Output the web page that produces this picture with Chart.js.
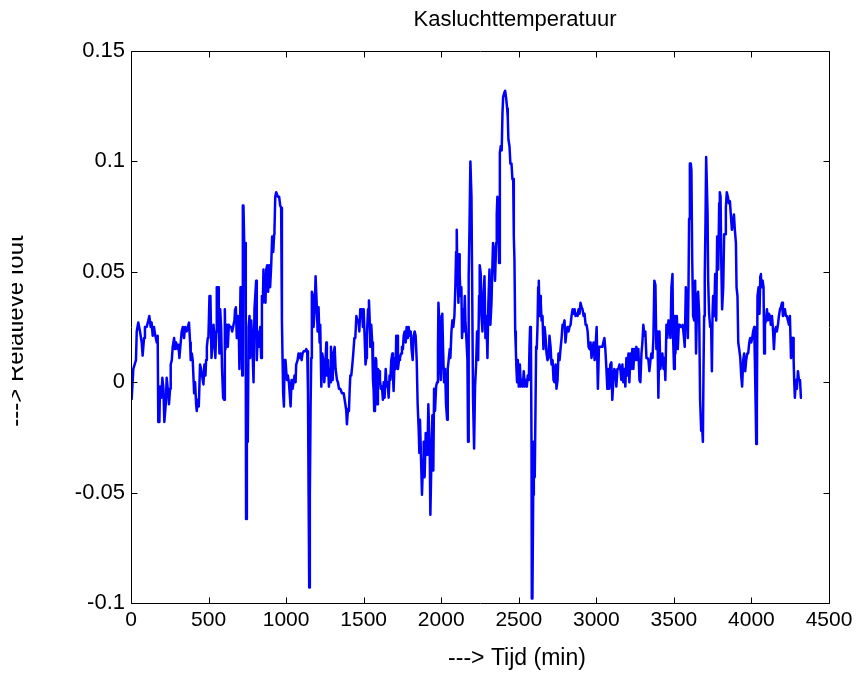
<!DOCTYPE html>
<html>
<head>
<meta charset="utf-8">
<script src="https://cdn.jsdelivr.net/npm/chart.js@4.4.1/dist/chart.umd.min.js"></script>
<style>
  html, body { margin: 0; padding: 0; background: #fff; }
  canvas { display: block; }
</style>
</head>
<body>
<canvas id="myChart" width="858" height="673"></canvas>
<script>
const chartTitle = 'Kasluchttemperatuur';
const xTitle = '---> Tijd (min)';
const yTitle = '---> Relatieve fout';

const xTicks = [0, 500, 1000, 1500, 2000, 2500, 3000, 3500, 4000, 4500];
const xTickLabels = ['0', '500', '1000', '1500', '2000', '2500', '3000', '3500', '4000', '4500'];
const yTicks = [-0.1, -0.05, 0, 0.05, 0.1, 0.15];
const yTickLabels = ['-0.1', '-0.05', '0', '0.05', '0.1', '0.15'];

// tijd in minuten
const timeMin = [
  4, 15, 32, 37, 47, 58, 69, 75, 84, 90,
  101, 112, 118, 127, 133, 140, 148, 157, 166, 172,
  176, 183, 187, 196, 202, 209, 215, 224, 230, 237,
  245, 252, 256, 263, 269, 278, 284, 291, 299, 306,
  312, 318, 327, 334, 342, 349, 359, 366, 374, 381,
  385, 392, 398, 407, 413, 420, 424, 430, 437, 441,
  445, 452, 458, 467, 473, 480, 484, 489, 495, 499,
  506, 512, 519, 525, 532, 538, 544, 549, 553, 562,
  566, 570, 575, 581, 587, 594, 600, 605, 609, 618,
  624, 631, 639, 646, 652, 661, 667, 671, 676, 682,
  689, 695, 699, 706, 712, 717, 721, 725, 730, 736,
  740, 742, 747, 753, 758, 764, 768, 775, 781, 790,
  796, 801, 807, 811, 818, 824, 833, 839, 844, 850,
  854, 861, 867, 872, 878, 884, 891, 897, 904, 910,
  917, 923, 925, 930, 936, 947, 955, 962, 968, 973,
  977, 981, 986, 990, 996, 1005, 1011, 1018, 1022, 1029,
  1035, 1042, 1048, 1054, 1061, 1065, 1074, 1080, 1087, 1093,
  1100, 1106, 1113, 1123, 1130, 1136, 1141, 1145, 1149, 1153,
  1158, 1162, 1166, 1173, 1177, 1184, 1190, 1197, 1203, 1209,
  1216, 1220, 1227, 1233, 1240, 1246, 1252, 1259, 1263, 1270,
  1276, 1280, 1285, 1289, 1296, 1300, 1306, 1313, 1319, 1328,
  1334, 1341, 1349, 1360, 1371, 1382, 1388, 1392, 1399, 1405,
  1410, 1414, 1420, 1427, 1433, 1440, 1446, 1453, 1459, 1466,
  1472, 1478, 1489, 1495, 1500, 1506, 1512, 1517, 1521, 1528,
  1534, 1538, 1543, 1549, 1555, 1560, 1564, 1568, 1573, 1577,
  1581, 1586, 1592, 1599, 1605, 1611, 1618, 1624, 1629, 1635,
  1642, 1648, 1654, 1661, 1667, 1672, 1678, 1685, 1689, 1693,
  1700, 1706, 1710, 1715, 1721, 1728, 1734, 1741, 1747, 1753,
  1758, 1764, 1771, 1777, 1784, 1790, 1796, 1803, 1809, 1816,
  1822, 1829, 1835, 1842, 1848, 1855, 1859, 1863, 1870, 1876,
  1883, 1887, 1893, 1900, 1904, 1911, 1917, 1921, 1926, 1930,
  1936, 1943, 1949, 1954, 1960, 1967, 1973, 1979, 1982, 1986,
  1990, 1997, 2003, 2007, 2012, 2018, 2025, 2031, 2038, 2042,
  2048, 2055, 2059, 2066, 2072, 2078, 2085, 2091, 2096, 2100,
  2104, 2111, 2115, 2119, 2124, 2130, 2134, 2141, 2145, 2152,
  2156, 2162, 2169, 2173, 2177, 2182, 2188, 2195, 2199, 2205,
  2212, 2218, 2225, 2231, 2238, 2244, 2248, 2255, 2259, 2266,
  2272, 2279, 2285, 2291, 2298, 2304, 2311, 2317, 2324, 2330,
  2334, 2341, 2347, 2354, 2358, 2362, 2367, 2373, 2378, 2384,
  2390, 2395, 2399, 2406, 2412, 2418, 2425, 2429, 2433, 2440,
  2446, 2453, 2459, 2464, 2468, 2472, 2477, 2481, 2485, 2489,
  2494, 2500, 2507, 2513, 2520, 2526, 2532, 2539, 2545, 2552,
  2558, 2565, 2569, 2573, 2578, 2582, 2584, 2588, 2593, 2597,
  2603, 2608, 2612, 2616, 2621, 2625, 2629, 2634, 2638, 2642,
  2647, 2653, 2659, 2666, 2672, 2679, 2685, 2692, 2698, 2705,
  2711, 2718, 2724, 2730, 2737, 2743, 2750, 2756, 2763, 2769,
  2776, 2782, 2789, 2795, 2801, 2808, 2814, 2821, 2827, 2834,
  2840, 2847, 2853, 2860, 2866, 2872, 2879, 2885, 2892, 2898,
  2905, 2911, 2918, 2924, 2931, 2937, 2944, 2950, 2956, 2963,
  2969, 2976, 2982, 2989, 2995, 3002, 3006, 3010, 3017, 3023,
  3039, 3045, 3052, 3058, 3065, 3071, 3077, 3084, 3090, 3097,
  3103, 3110, 3116, 3123, 3129, 3136, 3142, 3149, 3155, 3161,
  3168, 3174, 3181, 3187, 3194, 3200, 3207, 3213, 3220, 3226,
  3232, 3239, 3245, 3252, 3258, 3265, 3271, 3278, 3284, 3291,
  3297, 3303, 3310, 3316, 3323, 3329, 3336, 3342, 3349, 3355,
  3362, 3368, 3374, 3381, 3387, 3394, 3400, 3407, 3413, 3420,
  3426, 3433, 3439, 3445, 3452, 3458, 3465, 3471, 3478, 3484,
  3491, 3495, 3501, 3506, 3510, 3519, 3525, 3532, 3538, 3544,
  3551, 3557, 3564, 3570, 3577, 3583, 3590, 3594, 3598, 3603,
  3609, 3613, 3618, 3624, 3631, 3637, 3643, 3650, 3656, 3663,
  3669, 3676, 3682, 3687, 3691, 3695, 3699, 3704, 3708, 3712,
  3717, 3721, 3727, 3734, 3740, 3745, 3749, 3753, 3760, 3766,
  3773, 3779, 3786, 3792, 3796, 3801, 3805, 3811, 3818, 3824,
  3831, 3835, 3841, 3848, 3854, 3861, 3867, 3874, 3880, 3887,
  3893, 3900, 3904, 3910, 3915, 3921, 3928, 3934, 3940, 3947,
  3953, 3960, 3966, 3973, 3979, 3986, 3992, 3999, 4005, 4011,
  4018, 4022, 4027, 4031, 4035, 4039, 4046, 4052, 4057, 4061,
  4065, 4072, 4078, 4082, 4087, 4093, 4100, 4106, 4113, 4119,
  4125, 4132, 4138, 4145, 4151, 4158, 4164, 4171, 4177, 4184,
  4190, 4197, 4203, 4209, 4216, 4222, 4229, 4235, 4242, 4248,
  4255, 4261, 4268, 4272, 4276, 4280, 4287, 4293, 4300, 4306,
  4313, 4319, 4326
];

// relatieve fout
const relError = [
  -0.008, 0.006, 0.010, 0.023, 0.027, 0.023, 0.018, 0.012, 0.020, 0.025,
  0.025, 0.028, 0.030, 0.025, 0.027, 0.021, 0.025, 0.021, 0.018, 0.021,
  -0.018, -0.018, -0.002, -0.007, 0.002, -0.003, -0.018, -0.010, 0.002, -0.003,
  -0.010, -0.003, 0.008, 0.010, 0.016, 0.020, 0.015, 0.018, 0.015, 0.017,
  0.011, 0.016, 0.023, 0.025, 0.020, 0.025, 0.023, 0.025, 0.027, 0.018,
  0.010, 0.013, 0.010, -0.005, 0.000, -0.010, -0.013, -0.008, -0.011, -0.002,
  0.008, 0.006, 0.003, -0.001, 0.008, 0.003, 0.010, 0.016, 0.020, 0.020,
  0.039, 0.039, 0.011, 0.016, 0.026, 0.020, 0.011, 0.023, 0.043, 0.043,
  0.026, 0.013, 0.033, 0.025, 0.006, -0.007, -0.008, 0.033, 0.015, 0.026,
  0.016, 0.026, 0.025, 0.025, 0.023, 0.026, 0.028, 0.033, 0.034, 0.020,
  0.030, 0.023, 0.006, 0.043, 0.043, 0.003, 0.080, 0.080, 0.063, 0.063,
  0.003, -0.062, -0.027, -0.027, 0.025, 0.030, 0.011, 0.028, 0.020, 0.000,
  0.033, 0.039, 0.046, 0.010, 0.023, 0.016, 0.025, 0.011, 0.039, 0.036,
  0.051, 0.039, 0.036, 0.051, 0.053, 0.041, 0.053, 0.043, 0.053, 0.066,
  0.059, 0.067, 0.069, 0.084, 0.086, 0.084, 0.084, 0.080, 0.079, 0.028,
  0.011, -0.005, -0.011, 0.010, 0.010, 0.001, 0.003, 0.000, -0.004, -0.011,
  0.001, -0.003, 0.000, 0.003, 0.000, 0.008, 0.010, 0.013, 0.011, 0.013,
  0.010, 0.013, 0.014, 0.014, 0.015, 0.014, -0.004, -0.051, -0.093, -0.051,
  -0.010, 0.011, 0.041, 0.039, 0.025, 0.033, 0.048, 0.036, 0.023, 0.034,
  0.018, 0.026, -0.002, 0.013, 0.010, 0.000, 0.006, 0.018, 0.003, 0.010,
  -0.002, 0.006, 0.000, 0.016, 0.006, 0.001, 0.013, 0.016, 0.006, 0.001,
  0.000, -0.003, -0.003, -0.005, -0.005, -0.010, -0.013, -0.019, -0.012, -0.013,
  -0.003, 0.003, 0.003, 0.008, 0.013, 0.020, 0.020, 0.030, 0.028, 0.028,
  0.023, 0.033, 0.033, 0.025, 0.033, 0.021, 0.008, 0.011, 0.021, 0.033,
  0.037, 0.030, 0.016, 0.026, 0.018, 0.001, -0.003, -0.013, 0.003, 0.011,
  0.010, -0.010, 0.006, 0.005, 0.001, -0.003, -0.002, -0.008, 0.000, -0.007,
  0.006, -0.002, 0.000, -0.007, 0.003, 0.001, 0.010, 0.013, 0.003, -0.004,
  0.011, 0.006, 0.021, 0.021, 0.006, 0.010, 0.011, 0.013, 0.016, 0.015,
  0.021, 0.023, 0.018, 0.025, 0.020, 0.025, 0.021, 0.023, 0.015, 0.010,
  0.021, 0.023, 0.021, 0.010, -0.010, -0.022, -0.032, -0.017, -0.035, -0.051,
  -0.035, -0.027, -0.043, -0.023, -0.027, -0.033, -0.010, -0.010, -0.032, -0.060,
  -0.038, -0.015, -0.040, -0.003, -0.013, -0.002, 0.000, 0.015, 0.036, 0.030,
  0.013, 0.001, 0.015, 0.031, 0.015, 0.000, 0.006, -0.010, -0.017, 0.006,
  0.010, 0.015, 0.011, 0.023, 0.028, 0.025, 0.030, 0.043, 0.059, 0.069,
  0.051, 0.036, 0.058, 0.049, 0.039, 0.043, 0.020, 0.033, 0.023, 0.039,
  0.028, 0.020, 0.010, -0.027, 0.048, 0.069, 0.100, 0.084, 0.048, -0.007,
  -0.030, -0.002, 0.008, 0.023, 0.010, 0.039, 0.053, 0.049, 0.030, 0.023,
  0.039, 0.048, 0.020, 0.030, 0.011, 0.036, 0.051, 0.026, 0.036, 0.053,
  0.063, 0.059, 0.046, 0.063, 0.076, 0.084, 0.082, 0.054, 0.104, 0.107,
  0.105, 0.122, 0.129, 0.131, 0.132, 0.129, 0.124, 0.120, 0.110, 0.107,
  0.099, 0.099, 0.092, 0.092, 0.066, 0.056, 0.023, 0.015, 0.006, 0.000,
  0.010, -0.002, 0.008, -0.002, 0.001, -0.002, 0.005, -0.002, 0.001, -0.002,
  0.003, 0.001, 0.016, 0.025, 0.023, -0.027, -0.098, -0.098, -0.051, -0.027,
  -0.043, -0.010, 0.016, 0.015, 0.026, 0.043, 0.046, 0.030, 0.039, 0.036,
  0.028, 0.030, 0.015, 0.025, 0.021, 0.013, 0.010, 0.011, 0.021, 0.016,
  0.008, 0.010, 0.001, 0.000, 0.008, -0.003, 0.001, 0.013, 0.010, 0.015,
  0.020, 0.026, 0.026, 0.028, 0.018, 0.023, 0.025, 0.023, 0.025, 0.026,
  0.030, 0.033, 0.031, 0.033, 0.030, 0.031, 0.030, 0.033, 0.031, 0.036,
  0.034, 0.033, 0.030, 0.031, 0.026, 0.026, 0.023, 0.016, 0.015, 0.018,
  0.011, 0.015, 0.018, 0.010, 0.016, 0.025, 0.011, -0.003, 0.016, 0.016,
  0.016, 0.018, 0.020, 0.015, 0.006, -0.003, 0.006, -0.003, 0.008, 0.009,
  -0.008, 0.001, 0.006, 0.005, -0.002, 0.006, 0.006, 0.008, 0.006, 0.001,
  0.008, 0.000, 0.006, -0.002, 0.011, 0.003, 0.013, 0.000, 0.013, 0.006,
  0.015, 0.006, 0.015, 0.010, 0.016, 0.010, 0.015, 0.001, 0.000, 0.013,
  0.018, 0.026, 0.021, 0.023, 0.011, 0.011, 0.010, 0.005, 0.010, 0.013,
  0.011, 0.020, 0.046, 0.044, 0.015, 0.023, -0.007, 0.023, 0.006, 0.011,
  0.013, 0.006, 0.011, 0.001, 0.026, 0.020, 0.028, 0.026, 0.020, 0.043,
  0.049, 0.020, 0.006, 0.030, 0.013, 0.030, 0.015, 0.026, 0.026, 0.025,
  0.025, 0.026, 0.021, 0.016, 0.043, 0.036, 0.020, 0.041, 0.074, 0.099,
  0.099, 0.096, 0.056, 0.030, 0.028, 0.046, 0.013, 0.038, 0.041, 0.031,
  -0.008, -0.022, -0.020, -0.027, 0.006, 0.030, 0.048, 0.074, 0.102, 0.102,
  0.077, 0.046, 0.031, 0.025, 0.026, 0.005, 0.030, 0.039, 0.030, 0.049,
  0.028, 0.066, 0.051, 0.081, 0.086, 0.084, 0.056, 0.033, 0.043, 0.067,
  0.067, 0.079, 0.086, 0.084, 0.081, 0.082, 0.076, 0.069, 0.072, 0.076,
  0.069, 0.063, 0.043, 0.039, 0.018, 0.015, 0.011, 0.003, -0.002, 0.010,
  0.013, 0.005, 0.010, 0.013, 0.013, 0.018, 0.020, 0.018, 0.020, 0.023,
  0.025, 0.010, -0.010, -0.028, -0.010, 0.039, 0.043, 0.031, 0.048, 0.049,
  0.043, 0.046, 0.043, 0.013, 0.026, 0.028, 0.033, 0.028, 0.031, 0.030,
  0.026, 0.030, 0.025, 0.015, 0.023, 0.025, 0.023, 0.026, 0.030, 0.033,
  0.034, 0.036, 0.030, 0.031, 0.033, 0.030, 0.030, 0.028, 0.026, 0.030,
  0.011, 0.020, 0.020, 0.010, 0.000, -0.007, 0.001, -0.003, 0.005, 0.001,
  0.001, -0.007, -0.007
];

const fontFamily = '"Liberation Sans", Arial, Helvetica, sans-serif';

// matlab-achtig kader met tickjes naar binnen + titels
const matlabFrame = {
  id: 'matlabFrame',
  afterDraw(chart) {
    const { ctx, chartArea: a, scales } = chart;
    const L = Math.round(a.left) + 0.5, R = Math.round(a.right) + 0.5;
    const T = Math.round(a.top) + 0.5, B = Math.round(a.bottom) + 0.5;
    const tl = 6;
    ctx.save();
    ctx.strokeStyle = '#000';
    ctx.lineWidth = 1;
    ctx.beginPath();
    ctx.rect(L, T, R - L, B - T);
    xTicks.forEach(v => {
      const px = Math.round(scales.x.getPixelForValue(v)) + 0.5;
      ctx.moveTo(px, B); ctx.lineTo(px, B - tl);
      ctx.moveTo(px, T); ctx.lineTo(px, T + tl);
    });
    yTicks.forEach(v => {
      const py = Math.round(scales.y.getPixelForValue(v)) + 0.5;
      ctx.moveTo(L, py); ctx.lineTo(L + tl, py);
      ctx.moveTo(R, py); ctx.lineTo(R - tl, py);
    });
    ctx.stroke();

    ctx.fillStyle = '#000';
    ctx.textAlign = 'center';
    ctx.textBaseline = 'middle';
    ctx.font = '22px ' + fontFamily;
    ctx.fillText(chartTitle, 515, 20);
    ctx.font = '23px ' + fontFamily;
    ctx.fillText(xTitle, 517, 659);

    // y-titel: in het origineel valt de bovenkant van de letters weg
    ctx.beginPath();
    ctx.rect(12, 0, 60, 673);
    ctx.clip();
    ctx.translate(23, 331);
    ctx.rotate(-Math.PI / 2);
    ctx.textBaseline = 'alphabetic';
    ctx.font = '24px ' + fontFamily;
    ctx.fillText(yTitle, 0, 0);
    ctx.restore();
  }
};

const ctx = document.getElementById('myChart').getContext('2d');
const myChart = new Chart(ctx, {
  type: 'line',
  data: {
    datasets: [{
      label: 'Relatieve fout',
      data: timeMin.map((t, i) => ({ x: t, y: relError[i] })),
      borderColor: '#0000ff',
      borderWidth: 2.5,
      borderJoinStyle: 'round',
      pointRadius: 0,
      tension: 0,
      fill: false
    }]
  },
  options: {
    responsive: false,
    animation: false,
    devicePixelRatio: 1,
    layout: { padding: { top: 51, right: 29, left: 0, bottom: 0 } },
    plugins: {
      legend: { display: false },
      tooltip: { enabled: false },
      title: { display: false }
    },
    scales: {
      x: {
        type: 'linear',
        min: 0,
        max: 4500,
        afterBuildTicks: (scale) => { scale.ticks = xTicks.map(v => ({ value: v })); },
        afterFit: (scale) => { scale.height = 70; },
        grid: { display: false, drawTicks: false },
        border: { display: false },
        ticks: {
          color: '#000',
          font: { family: fontFamily, size: 21 },
          padding: 5,
          maxRotation: 0,
          autoSkip: false,
          callback: (value, index) => xTickLabels[index]
        }
      },
      y: {
        type: 'linear',
        min: -0.1,
        max: 0.15,
        afterBuildTicks: (scale) => { scale.ticks = yTicks.map(v => ({ value: v })); },
        afterFit: (scale) => { scale.width = 131; },
        grid: { display: false, drawTicks: false },
        border: { display: false },
        ticks: {
          color: '#000',
          font: { family: fontFamily, size: 22 },
          padding: 6,
          autoSkip: false,
          callback: (value, index) => yTickLabels[index]
        }
      }
    }
  },
  plugins: [matlabFrame]
});
</script>
</body>
</html>
